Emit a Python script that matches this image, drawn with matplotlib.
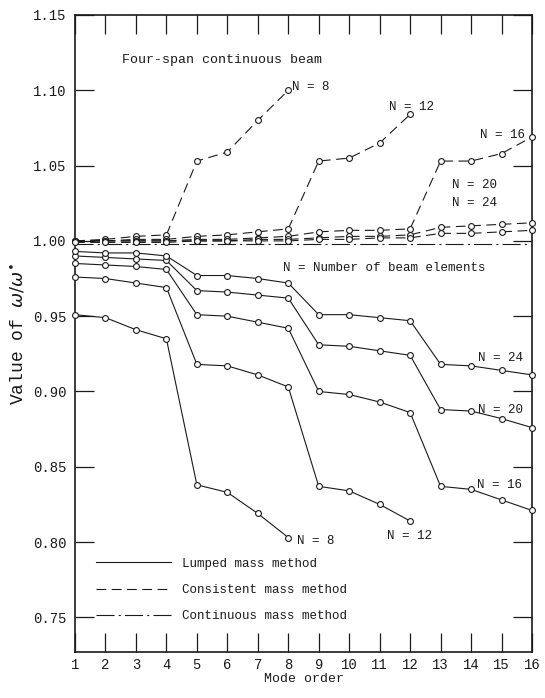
import matplotlib
matplotlib.use("Agg")
import matplotlib.pyplot as plt
from matplotlib.lines import Line2D

plt.rcParams["font.family"] = ["Liberation Mono", "DejaVu Sans"]
plt.rcParams["mathtext.fontset"] = "dejavusans"
plt.rcParams["lines.scale_dashes"] = False

# ---------------- data ----------------
modes = list(range(1, 17))

# Lumped mass method (solid)
lumped_n8 = [0.951, 0.949, 0.941, 0.935, 0.838, 0.833, 0.819, 0.803]
lumped_n12 = [0.976, 0.975, 0.972, 0.969, 0.918, 0.917, 0.911, 0.903,
              0.837, 0.834, 0.825, 0.814]
lumped_n16 = [0.985, 0.984, 0.983, 0.981, 0.951, 0.950, 0.946, 0.942,
              0.900, 0.898, 0.893, 0.886, 0.837, 0.835, 0.828, 0.821]
lumped_n20 = [0.990, 0.989, 0.988, 0.987, 0.967, 0.966, 0.964, 0.962,
              0.931, 0.930, 0.927, 0.924, 0.888, 0.887, 0.882, 0.876]
lumped_n24 = [0.993, 0.992, 0.992, 0.990, 0.977, 0.977, 0.975, 0.972,
              0.951, 0.951, 0.949, 0.947, 0.918, 0.917, 0.914, 0.911]

# Consistent mass method (dashed)
consist_n8 = [1.000, 1.001, 1.003, 1.004, 1.053, 1.059, 1.080, 1.100]
consist_n12 = [1.000, 1.000, 1.001, 1.001, 1.003, 1.004, 1.006, 1.008,
               1.053, 1.055, 1.065, 1.084]
consist_n16 = [1.000, 1.000, 1.000, 1.000, 1.001, 1.001, 1.002, 1.003,
               1.006, 1.007, 1.007, 1.008, 1.053, 1.053, 1.058, 1.069]
consist_n20 = [1.000, 1.000, 1.000, 1.000, 1.000, 1.000, 1.001, 1.001,
               1.002, 1.003, 1.003, 1.004, 1.009, 1.010, 1.011, 1.012]
consist_n24 = [0.999, 0.999, 0.999, 0.999, 1.000, 1.000, 1.000, 1.000,
               1.001, 1.001, 1.002, 1.002, 1.005, 1.005, 1.006, 1.007]

# Continuous mass method (dash-dot)
continuous = [0.998, 0.998, 0.998, 0.998, 0.998, 0.998, 0.998, 0.998,
              0.998, 0.998, 0.998, 0.998, 0.998, 0.998, 0.998, 0.998]

yticks = [0.75, 0.80, 0.85, 0.90, 0.95, 1.00, 1.05, 1.10, 1.15]
legend_labels = ["Lumped mass method", "Consistent mass method",
                 "Continuous mass method"]

# ---------------- styles ----------------
INK = "#1a1a1a"
LW = 0.8
DASH = (0, (7, 4))
DASHDOT = (0, (13, 3, 1.5, 3))
mk = dict(marker="o", markersize=4.2, markerfacecolor="white",
          markeredgecolor=INK, markeredgewidth=0.8)

fig = plt.figure(figsize=(5.45, 6.98), dpi=100)
ax = fig.add_axes([75 / 545, 1 - 652 / 698, 457 / 545, 637 / 698])

ax.plot(modes, continuous, color=INK, lw=LW, linestyle=DASHDOT, zorder=2)

for vals in [lumped_n8, lumped_n12, lumped_n16, lumped_n20, lumped_n24]:
    ax.plot(modes[:len(vals)], vals, color=INK, lw=LW, linestyle="-",
            zorder=3, clip_on=False, **mk)
for vals in [consist_n8, consist_n12, consist_n16, consist_n20, consist_n24]:
    ax.plot(modes[:len(vals)], vals, color=INK, lw=LW, linestyle=DASH,
            zorder=3, clip_on=False, **mk)

ax.set_xlim(1, 16)
ax.set_ylim(0.727, 1.15)
ax.set_xticks(modes)
ax.set_xticklabels([str(m) for m in modes])
ax.set_yticks(yticks)
ax.set_yticklabels([f"{v:.2f}" for v in yticks])

ax.tick_params(axis="x", direction="in", length=14, width=0.9, top=True,
               bottom=True, labelsize=10, pad=4, colors=INK)
ax.tick_params(axis="y", direction="in", length=14, width=0.9, left=True,
               right=True, labelsize=10, pad=6, colors=INK)
for sp in ax.spines.values():
    sp.set_linewidth(1.2)
    sp.set_color(INK)

ax.set_xlabel("Mode order", fontsize=9.5, color=INK, labelpad=1)
ax.set_ylabel(r"Value of $\omega/\omega^{\bullet}$", fontsize=13,
              color=INK, labelpad=4)

fs = 9
txt = dict(fontsize=fs, color=INK, va="center")
ax.text(2.53, 1.120, "Four-span continuous beam", ha="left",
        fontsize=9.5, color=INK, va="center")
ax.text(8.12, 1.102, "N = 8", ha="left", **txt)
ax.text(12.05, 1.089, "N = 12", ha="center", **txt)
ax.text(15.77, 1.0705, "N = 16", ha="right", **txt)
ax.text(14.1, 1.037, "N = 20", ha="center", **txt)
ax.text(14.1, 1.025, "N = 24", ha="center", **txt)
ax.text(7.83, 0.982, "N = Number of beam elements", ha="left", **txt)
ax.text(15.7, 0.922, "N = 24", ha="right", **txt)
ax.text(15.7, 0.888, "N = 20", ha="right", **txt)
ax.text(15.66, 0.838, "N = 16", ha="right", **txt)
ax.text(11.97, 0.804, "N = 12", ha="center", **txt)
ax.text(8.28, 0.801, "N = 8", ha="left", **txt)

handles = [Line2D([], [], color=INK, lw=LW, linestyle="-"),
           Line2D([], [], color=INK, lw=LW, linestyle=DASH),
           Line2D([], [], color=INK, lw=LW, linestyle=DASHDOT)]
leg = ax.legend(handles, legend_labels, loc="upper left",
                bbox_to_anchor=(0.045, 0.148), frameon=False, fontsize=fs,
                handlelength=6.0, handletextpad=0.9, labelspacing=1.15,
                borderpad=0, borderaxespad=0)
for t in leg.get_texts():
    t.set_color(INK)

fig.savefig("out.png", dpi=100)
